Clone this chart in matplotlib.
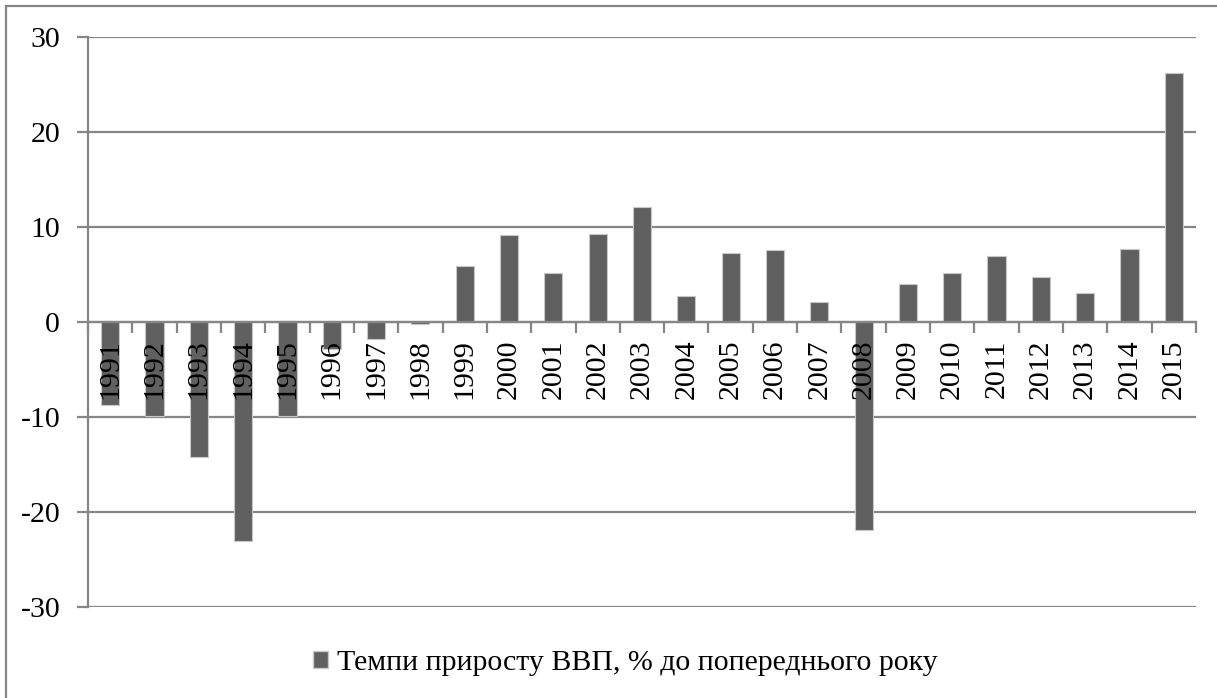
import numpy as np
import matplotlib.pyplot as plt
from matplotlib.patches import Rectangle, Patch

plt.rcParams['font.family'] = ['Liberation Serif', 'DejaVu Serif']
plt.rcParams['axes.unicode_minus'] = False

years = [str(y) for y in range(1991, 2016)]
growth = [-8.7, -9.9, -14.2, -23.0, -9.9, -2.8, -1.8, -0.2, 5.9, 9.2,
          5.2, 9.3, 12.1, 2.7, 7.3, 7.6, 2.1, -21.9, 4.0, 5.2,
          7.0, 4.7, 3.1, 7.7, 26.2]
legend_label = 'Темпи приросту ВВП, % до попереднього року'

grey = '#868686'
bar_color = '#606060'
fs = 21.5

fig = plt.figure(figsize=(12.17, 6.98), dpi=100)
ax = fig.add_axes([88 / 1217, 1 - 607 / 698, (1196 - 88) / 1217, 570 / 698])

x = np.arange(len(years))
ax.bar(x, growth, width=0.41, color=bar_color, edgecolor='#c8c8c8',
       linewidth=0.8, zorder=3)

ax.set_xlim(-0.5, len(years) - 0.5)
ax.set_ylim(-30, 30)
ax.set_yticks(np.arange(-30, 31, 10))
ax.yaxis.grid(True, color=grey, linewidth=1.6)
ax.yaxis.set_zorder(0.5)
ax.xaxis.set_zorder(5)  # year labels drawn over the bars

# category axis sits on the zero line
for s in ['top', 'right']:
    ax.spines[s].set_visible(False)
ax.spines['bottom'].set_position(('data', 0))
ax.spines['bottom'].set_color(grey)
ax.spines['bottom'].set_linewidth(1.6)
ax.spines['bottom'].set_zorder(4)
ax.spines['left'].set_color(grey)
ax.spines['left'].set_linewidth(1.6)

ax.set_xticks(x)
ax.set_xticklabels(years, rotation=90, fontsize=fs)
ax.tick_params(axis='x', which='major', length=0, pad=12.5)
ax.set_xticks(np.arange(-0.5, len(years)), minor=True)
ax.tick_params(axis='x', which='minor', length=8, width=1.6, color=grey,
               direction='out')
for lab in ax.get_xticklabels():
    lab.set_verticalalignment('top')

ax.tick_params(axis='y', length=8, width=1.6, color=grey, labelsize=fs,
               pad=12)

fig.legend(handles=[Patch(facecolor=bar_color, edgecolor='#c8c8c8',
                          label=legend_label)],
           loc='center', bbox_to_anchor=(625 / 1217, 1 - 663 / 698),
           frameon=False, fontsize=fs, handlelength=0.5,
           handleheight=0.5, handletextpad=0.3)

# outer chart frame (only left and top edges are in view)
fig.patches.append(Rectangle((6 / 1217, -0.2), 1.2, 1.2 - 6 / 698,
                             transform=fig.transFigure, fill=False,
                             edgecolor=grey, linewidth=1.6))

fig.savefig('out.png', dpi=100)
